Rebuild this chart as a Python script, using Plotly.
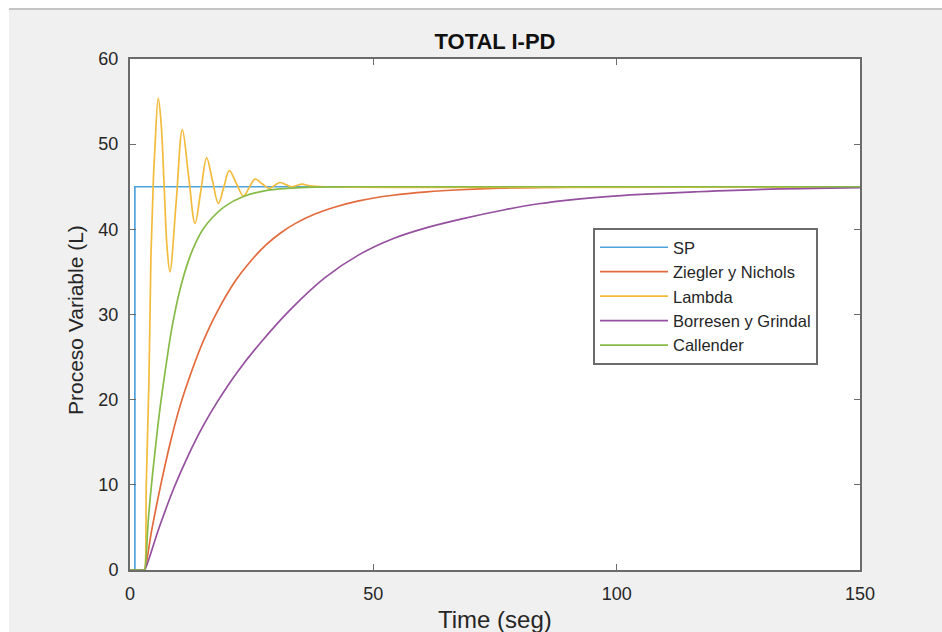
import plotly.graph_objects as go

# ---- data (time in seconds, level in litres) ----
t_sp = [0, 1, 1, 150]
sp = [0, 0, 45, 45]

t_zn = [0, 2.9, 3, 4.5, 6.4, 8.3, 10.3, 12.7, 15, 17.8, 21.6, 25, 28, 31, 34,
        38, 42, 47, 54, 61, 68, 76, 85, 100, 150]
zn = [0, 0, 0, 4.8, 10.2, 15.0, 19.3, 23.4, 26.8, 30.2, 33.9, 36.4, 38.2, 39.6,
      40.7, 41.8, 42.6, 43.35, 44.0, 44.4, 44.65, 44.83, 44.93, 45.0, 45.0]

t_lambda = [0, 2.9, 3, 3.35, 3.9, 4.3, 4.8, 5.1, 5.8, 6.4, 7.0, 7.6, 8.2, 9.5,
            10.75, 12.05, 13.36, 14.55, 15.75, 16.95, 18.15, 19.3, 20.4, 21.85,
            23.3, 24.5, 25.7, 27.15, 28.6, 29.7, 30.8, 32.0, 33.2, 34.25, 35.3,
            37, 40, 150]
lam = [0, 0, 0, 10.2, 22.3, 36.8, 45.8, 49.3, 55.4, 52.4, 45.3, 38.0, 35.0, 43.3,
       51.7, 46.2, 40.7, 44.5, 48.4, 45.7, 43.05, 45.0, 46.9, 45.4,
       43.9, 44.9, 45.9, 45.35, 44.8, 45.15, 45.5, 45.25, 45.0, 45.15, 45.3,
       45.1, 45.0, 45.0]

t_bg = [0, 2.9, 3, 6, 9, 12, 15, 18, 22, 27, 33, 40, 47, 54, 61, 68, 77, 84,
        91, 98, 105, 116, 130, 150]
bg = [0, 0, 0, 5.0, 9.6, 13.5, 16.9, 19.8, 23.2, 26.8, 30.6, 34.3, 37.0, 38.9,
      40.2, 41.2, 42.3, 43.0, 43.5, 43.85, 44.1, 44.4, 44.7, 44.9]

t_cal = [0, 2.9, 3, 3.8, 4.7, 5.6, 6.4, 7.4, 8.6, 10.3, 12, 13.4, 15, 16.8,
         19.5, 23.3, 28.4, 35, 45, 150]
cal = [0, 0, 0, 6.2, 11.6, 16.3, 20.0, 24.0, 28.4, 33.0, 36.3, 38.3, 40.0, 41.3,
       42.7, 43.85, 44.6, 44.9, 45.0, 45.0]

x_ticks = [0, 50, 100, 150]
y_ticks = [0, 10, 20, 30, 40, 50, 60]

series = [
    ("SP", t_sp, sp, "#4fa3dc", "linear"),
    ("Ziegler y Nichols", t_zn, zn, "#e36a3c", "spline"),
    ("Lambda", t_lambda, lam, "#f2bb3c", "spline"),
    ("Borresen y Grindal", t_bg, bg, "#95509f", "spline"),
    ("Callender", t_cal, cal, "#87bb48", "spline"),
]

FONT = "Liberation Sans, Arial, Helvetica, sans-serif"
TXT = "#262626"
FRAME = "#6b6b6b"

fig = go.Figure()
for name, tx, vy, color, shape in series:
    fig.add_trace(go.Scatter(
        x=tx, y=vy, name=name, mode="lines",
        line=dict(color=color, width=1.7, shape=shape),
    ))

W, H = 942, 632
L, R, T, B = 130, 82, 59, 62
pw, ph = W - L - R, H - T - B


def px_x(px):
    return (px - L) / pw


def px_y(py):
    return (H - B - py) / ph


axis_common = dict(
    showgrid=False, zeroline=False, showline=True, linecolor=FRAME,
    linewidth=2, mirror="ticks", ticks="inside", ticklen=6, tickwidth=1,
    tickcolor=FRAME, tickfont=dict(family=FONT, size=18, color=TXT),
)

fig.update_layout(
    width=W, height=H,
    margin=dict(l=L, r=R, t=T, b=B),
    paper_bgcolor="#f0f0f0",
    plot_bgcolor="white",
    font=dict(family=FONT, color=TXT),
    title=dict(text="<b>TOTAL I-PD</b>", x=px_x(495), xref="paper",
               y=1 - 41 / H, yref="container", xanchor="center",
               yanchor="middle", font=dict(size=22, color="#111111")),
    xaxis=dict(range=[0, 150], tickvals=x_ticks, ticklabelstandoff=6,
               **axis_common),
    yaxis=dict(range=[0, 60], tickvals=y_ticks, ticklabelstandoff=6,
               **axis_common),
    legend=dict(
        x=px_x(593), y=px_y(228), xanchor="left", yanchor="top",
        bgcolor="white", bordercolor=FRAME, borderwidth=2,
        font=dict(family=FONT, size=16.5, color=TXT),
        itemwidth=68, tracegroupgap=0,
    ),
    showlegend=True,
)

# axis titles
fig.add_annotation(text="Time (seg)", x=px_x(495), y=px_y(620),
                   xref="paper", yref="paper", showarrow=False,
                   xanchor="center", yanchor="middle",
                   font=dict(family=FONT, size=24, color=TXT))
fig.add_annotation(text="Proceso Variable (L)", x=px_x(75), y=px_y(320),
                   xref="paper", yref="paper", showarrow=False, textangle=-90,
                   xanchor="center", yanchor="middle",
                   font=dict(family=FONT, size=21, color=TXT))

# window border strips along the top and left edges
fig.add_shape(type="rect", xref="paper", yref="paper",
              x0=px_x(0), x1=px_x(W), y0=px_y(0), y1=px_y(8),
              fillcolor="white", line_width=0, layer="above")
fig.add_shape(type="rect", xref="paper", yref="paper",
              x0=px_x(0), x1=px_x(9), y0=px_y(8), y1=px_y(H),
              fillcolor="white", line_width=0, layer="above")
fig.add_shape(type="line", xref="paper", yref="paper",
              x0=px_x(9), x1=px_x(W), y0=px_y(9), y1=px_y(9),
              line=dict(color="#c4c4c4", width=2), layer="above")

fig.write_html("out.html")
